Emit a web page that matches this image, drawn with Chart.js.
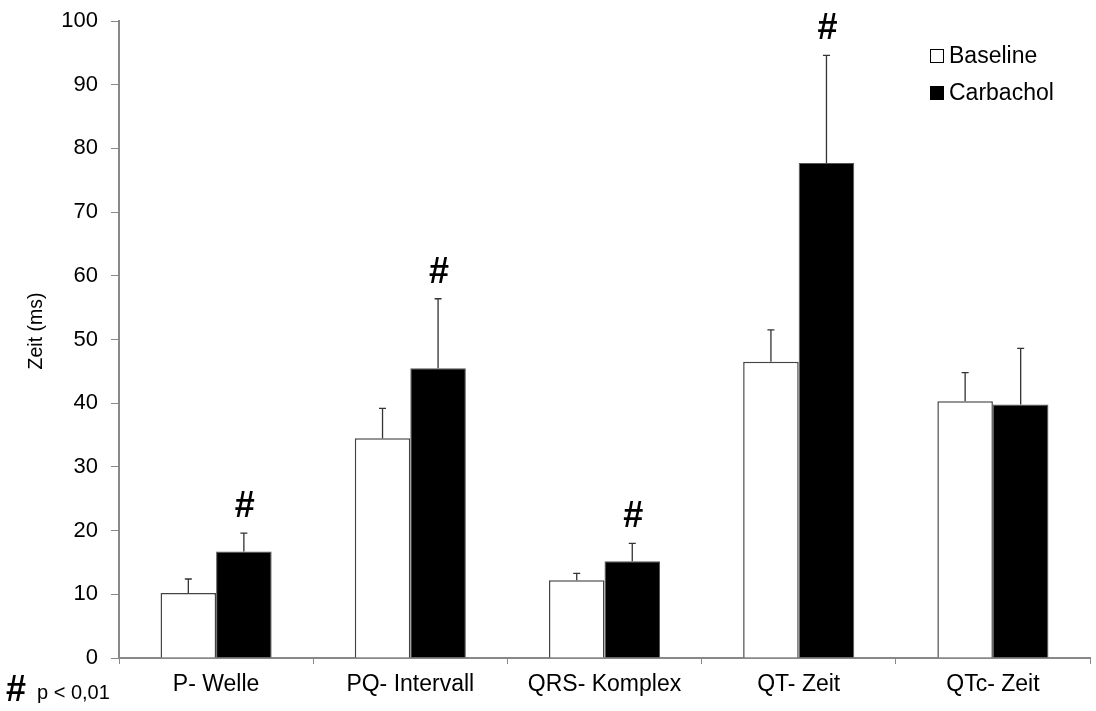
<!DOCTYPE html>
<html>
<head>
<meta charset="utf-8">
<script src="https://cdn.jsdelivr.net/npm/chart.js@4"></script>
<style>
  html, body { margin: 0; padding: 0; background: #fff; }
  #wrap { width: 1096px; height: 711px; position: relative; }
</style>
</head>
<body>
<div id="wrap"><canvas id="ekgChart" width="1096" height="711"></canvas></div>
<script>
// ECG intervals, baseline vs carbachol
var labels = ['P- Welle', 'PQ- Intervall', 'QRS- Komplex', 'QT- Zeit', 'QTc- Zeit'];
var baseline = [10.2, 34.5, 12.2, 46.5, 40.3];
var baselineSD = [2.2, 4.7, 1.1, 5.0, 4.5];
var carbachol = [16.7, 45.5, 15.2, 77.7, 39.8];
var carbacholSD = [2.9, 10.9, 2.8, 16.9, 8.8];
var signif = [true, true, true, true, false];
var yTicks = [0, 10, 20, 30, 40, 50, 60, 70, 80, 90, 100];

var font = "'Liberation Sans', Arial, sans-serif";
var axisGrey = '#888888';

// error bars (upper only) + significance marks
var errorBars = {
    id: 'errorBars',
    afterDatasetsDraw: function (chart) {
        var ctx = chart.ctx;
        var y = chart.scales.y;
        var sds = [baselineSD, carbacholSD];
        ctx.save();
        ctx.strokeStyle = '#333';
        ctx.lineWidth = 1.3;
        chart.data.datasets.forEach(function (ds, di) {
            var meta = chart.getDatasetMeta(di);
            meta.data.forEach(function (bar, i) {
                var top = y.getPixelForValue(ds.data[i]);
                var hi = y.getPixelForValue(ds.data[i] + sds[di][i]);
                ctx.beginPath();
                ctx.moveTo(bar.x, top);
                ctx.lineTo(bar.x, hi);
                ctx.moveTo(bar.x - 3.5, hi);
                ctx.lineTo(bar.x + 3.5, hi);
                ctx.stroke();
                if (di === 1 && signif[i]) {
                    ctx.fillStyle = '#000';
                    ctx.font = 'bold 36px ' + font;
                    ctx.textAlign = 'center';
                    ctx.textBaseline = 'middle';
                    ctx.fillText('#', bar.x + 1, hi - 26);
                }
            });
        });
        ctx.restore();
    }
};

// legend inside the plot, top right
var boxLegend = {
    id: 'boxLegend',
    afterDraw: function (chart) {
        var ctx = chart.ctx;
        ctx.save();
        ctx.font = '23px ' + font;
        ctx.textBaseline = 'middle';
        ctx.textAlign = 'left';
        chart.data.datasets.forEach(function (ds, i) {
            var by = 49 + i * 37;
            ctx.fillStyle = ds.backgroundColor;
            ctx.fillRect(930, by, 14, 14);
            ctx.strokeStyle = '#000';
            ctx.lineWidth = 1;
            ctx.strokeRect(930.5, by + 0.5, 13, 13);
            ctx.fillStyle = '#000';
            ctx.fillText(ds.label, 949, by + 8);
        });
        ctx.restore();
    }
};

// y axis title (sits a bit above the centre in the original)
var yTitle = {
    id: 'yTitle',
    afterDraw: function (chart) {
        var ctx = chart.ctx;
        ctx.save();
        ctx.translate(37, 331);
        ctx.rotate(-Math.PI / 2);
        ctx.fillStyle = '#000';
        ctx.font = '19.5px ' + font;
        ctx.textAlign = 'center';
        ctx.textBaseline = 'middle';
        ctx.fillText('Zeit (ms)', 0, 0);
        ctx.restore();
    }
};

// footnote bottom left
var footnote = {
    id: 'footnote',
    afterDraw: function (chart) {
        var ctx = chart.ctx;
        ctx.save();
        ctx.fillStyle = '#000';
        ctx.textBaseline = 'alphabetic';
        ctx.font = 'bold 36px ' + font;
        ctx.fillText('#', 6, 701);
        ctx.font = '20px ' + font;
        ctx.fillText('p < 0,01', 37, 699);
        ctx.restore();
    }
};

new Chart(document.getElementById('ekgChart'), {
    type: 'bar',
    data: {
        labels: labels,
        datasets: [{
            label: 'Baseline',
            data: baseline,
            backgroundColor: '#ffffff',
            borderColor: '#444',
            borderWidth: 1.5,
            borderSkipped: 'bottom'
        }, {
            label: 'Carbachol',
            data: carbachol,
            backgroundColor: '#000000',
            borderColor: '#555',
            borderWidth: 1,
            borderSkipped: 'bottom'
        }]
    },
    options: {
        responsive: false,
        animation: false,
        events: [],
        layout: { padding: { top: 21, right: 6, left: 0, bottom: 0 } },
        datasets: { bar: { categoryPercentage: 0.572, barPercentage: 1.0 } },
        plugins: {
            legend: { display: false },
            tooltip: { enabled: false }
        },
        scales: {
            x: {
                grid: { display: true, drawOnChartArea: false, drawTicks: true, tickLength: 6, color: axisGrey, offset: true },
                border: { display: true, color: axisGrey, width: 2 },
                ticks: { color: '#000', font: { family: font, size: 23 }, padding: 7, maxRotation: 0 },
                afterFit: function (s) { s.height = 53; }
            },
            y: {
                min: 0,
                max: 100,
                afterBuildTicks: function (s) { s.ticks = yTicks.map(function (v) { return { value: v }; }); },
                grid: { display: true, drawOnChartArea: false, drawTicks: true, tickLength: 8, color: axisGrey },
                border: { display: true, color: axisGrey, width: 2 },
                ticks: { color: '#000', font: { family: font, size: 22, lineHeight: 1 }, padding: 13 },
                afterFit: function (s) {
                    s.width = 119;
                    s.paddingTop = 0;
                    s.paddingBottom = 0;
                }
            }
        }
    },
    plugins: [errorBars, boxLegend, yTitle, footnote]
});
</script>
</body>
</html>
